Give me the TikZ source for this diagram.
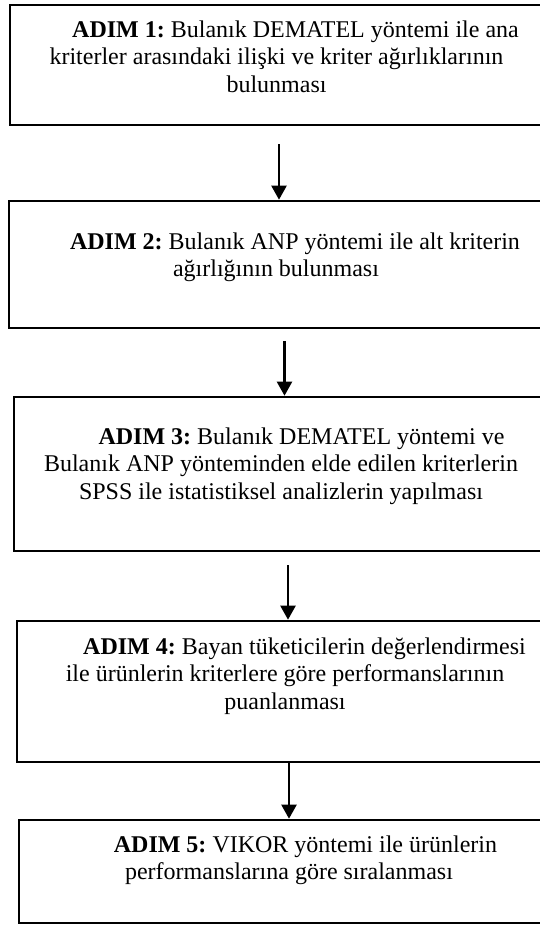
\documentclass[tikz,border=0pt]{standalone}
\usepackage{fontspec}
\setmainfont{Liberation Serif}
\usetikzlibrary{arrows.meta, positioning}
\frenchspacing

\tikzset{
    stepbox/.style={draw, line width=2.6pt, inner sep=0pt},
    steptext/.style={anchor=north, align=center, inner sep=0pt, font=\fontsize{24}{27.4}\selectfont},
    flow/.style={line width=2.2pt, -{Triangle[width=15pt, length=14pt]}}
}

\begin{document}
\begin{tikzpicture}[x=1pt, y=-1pt]
    \useasboundingbox (0, 0) rectangle (540, 926);

    \node[stepbox, minimum width=534pt, minimum height=120pt] (S1) at (277, 65) {};
    \node[stepbox, minimum width=534pt, minimum height=127pt] (S2) at (276, 264.5) {};
    \node[stepbox, minimum width=534pt, minimum height=154pt] (S3) at (281, 474) {};
    \node[stepbox, minimum width=536pt, minimum height=141pt] (S4) at (285, 691.5) {};
    \node[stepbox, minimum width=540pt, minimum height=103pt] (S5) at (289, 871.5) {};

    \node[steptext] (T1) at (276.5, 20.6) {\hspace*{38pt}\textbf{ADIM 1:} Bulanık DEMATEL yöntemi ile ana\\
        kriterler arasındaki ilişki ve kriter ağırlıklarının\\ bulunması};
    \node[steptext] (T2) at (276, 232.6) {\hspace*{38pt}\textbf{ADIM 2:} Bulanık ANP yöntemi ile alt kriterin\\
        ağırlığının bulunması};
    \node[steptext] (T3) at (281, 427.6) {\hspace*{41pt}\textbf{ADIM 3:} Bulanık DEMATEL yöntemi ve\\
        Bulanık ANP yönteminden elde edilen kriterlerin\\ SPSS ile istatistiksel analizlerin yapılması};
    \node[steptext] (T4) at (285, 637.6) {\hspace*{39pt}\textbf{ADIM 4:} Bayan tüketicilerin değerlendirmesi\\
        ile ürünlerin kriterlere göre performanslarının\\ puanlanması};
    \node[steptext] (T5) at (289, 835.6) {\hspace*{33pt}\textbf{ADIM 5:} VIKOR yöntemi ile ürünlerin\\
        performanslarına göre sıralanması};

    % arrows between the steps
    \coordinate (A1) at (279, 144);
    \coordinate (A2) at (284.5, 341);
    \coordinate (A3) at (288, 565);
    \coordinate (A4) at (289, 762);
    \draw[flow] (A1) -- (A1 |- S2.north);
    \draw[flow] (A2) -- (A2 |- S3.north);
    \draw[flow] (A3) -- (A3 |- S4.north);
    \draw[flow] (A4) -- (A4 |- S5.north);
\end{tikzpicture}
\end{document}
